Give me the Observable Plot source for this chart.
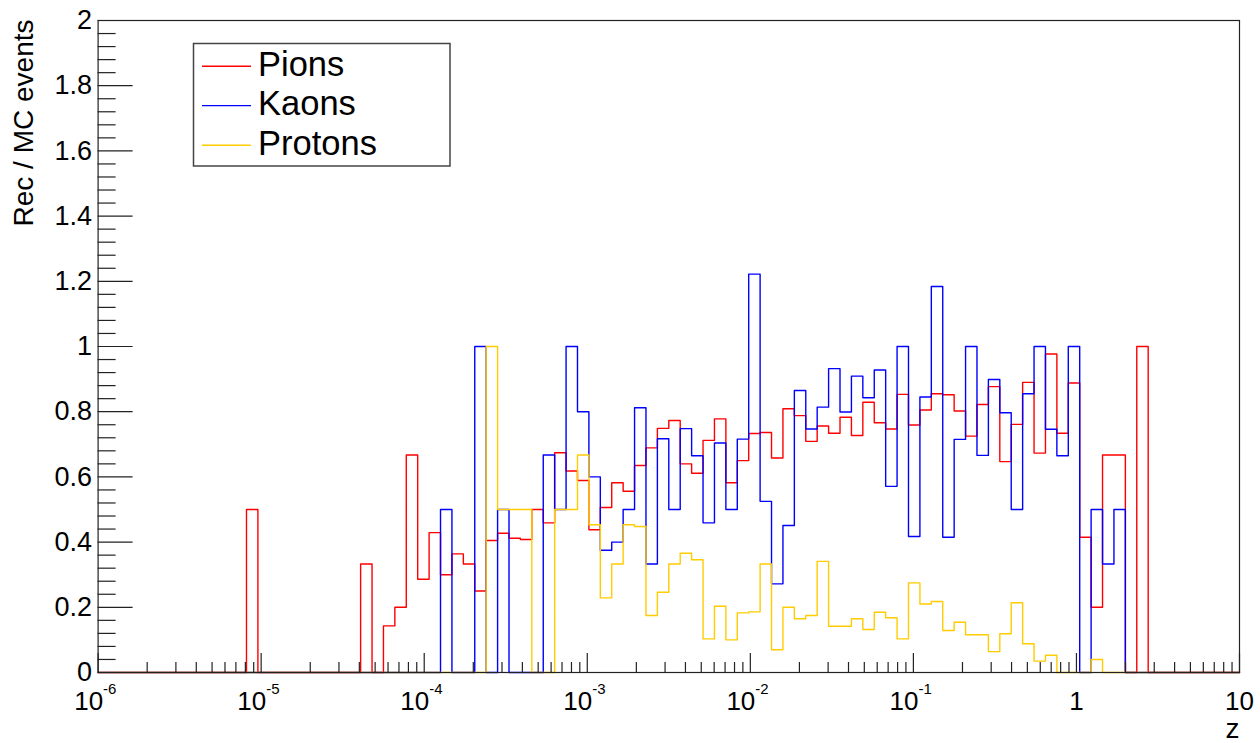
<!DOCTYPE html>
<html>
<head>
<meta charset="utf-8">
<script src="https://cdn.jsdelivr.net/npm/d3@7"></script>
<script src="https://cdn.jsdelivr.net/npm/@observablehq/plot@0.6"></script>
<style>
  html, body { margin: 0; padding: 0; background: #fff; }
  #chart { width: 1260px; height: 743px; }
</style>
</head>
<body>
<div id="chart"></div>
<script>
// Histogram definition: 100 log-uniform bins from 1e-6 to 10
const nBins = 100;
const zMin = 1e-6;
const zMax = 10;

// Bin contents (Rec / MC) per bin index 0..99
const pions = [
  0,0,0,0,0,0,0,0,0,0,
  0,0,0,0.5,0,0,0,0,0,0,
  0,0,0,0.333,0,0.143,0.2,0.667,0.286,0.429,
  0.3,0.364,0.333,0.25,0.405,0.427,0.412,0.408,0.5,0.459,
  0.674,0.618,0.589,0.438,0.506,0.582,0.556,0.635,0.689,0.749,
  0.773,0.64,0.611,0.712,0.778,0.582,0.65,0.733,0.736,0.658,
  0.809,0.788,0.709,0.756,0.734,0.783,0.727,0.829,0.766,0.747,
  0.853,0.759,0.805,0.855,0.852,0.802,0.725,0.822,0.877,0.647,
  0.761,0.89,0.673,0.977,0.734,0.888,0.415,0.2,0.667,0.667,
  0,1.0,0,0,0,0,0,0,0,0
];
const kaons = [
  0,0,0,0,0,0,0,0,0,0,
  0,0,0,0,0,0,0,0,0,0,
  0,0,0,0,0,0,0,0,0,0,
  0.5,0,0,1.0,0,0.5,0,0,0,0.667,
  0.5,1.0,0.8,0.6,0.375,0.4,0.5,0.812,0.333,0.717,
  0.5,0.748,0.665,0.459,0.704,0.5,0.716,1.222,0.525,0.272,
  0.451,0.865,0.747,0.814,0.932,0.799,0.909,0.843,0.928,0.571,
  1.0,0.417,0.845,1.184,0.415,0.715,1.0,0.666,0.899,0.797,
  0.5,0.855,1.0,0.746,0.665,1.0,0,0.5,0.333,0.5,
  0,0,0,0,0,0,0,0,0,0
];
const protons = [
  0,0,0,0,0,0,0,0,0,0,
  0,0,0,0,0,0,0,0,0,0,
  0,0,0,0,0,0,0,0,0,0,
  0,0,0,0,1.0,0.5,0.5,0.5,0,0,
  0.5,0.5,0.667,0.453,0.229,0.333,0.453,0.448,0.175,0.246,
  0.333,0.366,0.346,0.103,0.203,0.1,0.183,0.186,0.333,0.07,
  0.2,0.165,0.175,0.341,0.142,0.142,0.165,0.132,0.185,0.168,
  0.103,0.275,0.21,0.218,0.129,0.154,0.116,0.116,0.064,0.119,
  0.214,0.088,0.035,0.053,0,0,0,0.04,0,0,
  0,0,0,0,0,0,0,0,0,0
];

const seriesNames = ["Pions", "Kaons", "Protons"];
const seriesColors = ["#ff0000", "#0000ff", "#ffcc00"];

// Axis ticks and labels
const xTickValues = [1e-6, 1e-5, 1e-4, 1e-3, 1e-2, 1e-1, 1, 10];
const xTickBase = ["10", "10", "10", "10", "10", "10", "1", "10"];
const xTickExp = ["-6", "-5", "-4", "-3", "-2", "-1", "", ""];
const xMinorMultipliers = [2, 3, 4, 5, 6, 7, 8, 9];
const yTickValues = [0, 0.2, 0.4, 0.6, 0.8, 1, 1.2, 1.4, 1.6, 1.8, 2];
const yTickLabels = ["0", "0.2", "0.4", "0.6", "0.8", "1", "1.2", "1.4", "1.6", "1.8", "2"];
const yMinorStep = 0.04;
const xTitle = "z";
const yTitle = "Rec / MC events";

// ---- derived tables ----
const lg0 = Math.log10(zMin), lg1 = Math.log10(zMax);
const edges = d3.range(nBins + 1).map(i => Math.pow(10, lg0 + (lg1 - lg0) * i / nBins));
function histRows(vals, name) {
  const rows = vals.map((v, i) => ({z: edges[i], v, name}));
  rows.push({z: edges[nBins], v: 0, name});
  return rows;
}
const allSeries = [pions, kaons, protons];

const xMinor = [];
for (let k = 0; k < xTickValues.length - 1; k++)
  for (const m of xMinorMultipliers) xMinor.push(xTickValues[k] * m);
const yMinor = d3.range(0, 2.0001, yMinorStep).filter(v => Math.abs(v / 0.2 - Math.round(v / 0.2)) > 1e-6);

const W = 1260, H = 743;
const mL = 97.6, mR = 21, mT = 20, mB = 71;
const plotW = W - mL - mR, plotH = H - mT - mB;
const font = "'Liberation Sans', Arial, Helvetica, sans-serif";
const axisColor = "#222";

const expIdx = xTickValues.map((v, i) => i).filter(i => xTickExp[i] !== "");
const plainIdx = xTickValues.map((v, i) => i).filter(i => xTickExp[i] === "");

const marks = [
  // histograms
  ...allSeries.map((vals, s) => Plot.line(histRows(vals, seriesNames[s]), {
    x: "z", y: "v", curve: "step-after", stroke: seriesColors[s], strokeWidth: 1.4
  })),
  // frame
  Plot.frame({stroke: axisColor, strokeWidth: 1.2}),
  // x ticks (inside)
  Plot.ruleX(xTickValues, {x: d => d, insetTop: plotH - 19, stroke: axisColor, strokeWidth: 1.2}),
  Plot.ruleX(xMinor, {x: d => d, insetTop: plotH - 10, stroke: axisColor, strokeWidth: 1.2}),
  // y ticks (inside)
  Plot.ruleY(yTickValues, {y: d => d, insetRight: plotW - 35, stroke: axisColor, strokeWidth: 1.2}),
  Plot.ruleY(yMinor, {y: d => d, insetRight: plotW - 18, stroke: axisColor, strokeWidth: 1.2}),
  // y tick labels
  Plot.text(yTickValues, {
    y: d => d, frameAnchor: "left", text: (d, i) => yTickLabels[i],
    textAnchor: "end", lineAnchor: "middle", dx: -6, fontSize: 27, fill: "#000"
  }),
  // x tick labels with exponents
  Plot.text(expIdx, {
    x: i => xTickValues[i], frameAnchor: "bottom", text: i => xTickBase[i],
    textAnchor: "end", lineAnchor: "bottom", dx: 5, dy: 37, fontSize: 26, fill: "#000"
  }),
  Plot.text(expIdx, {
    x: i => xTickValues[i], frameAnchor: "bottom", text: i => xTickExp[i],
    textAnchor: "start", lineAnchor: "bottom", dx: 5, dy: 21, fontSize: 15, fill: "#000"
  }),
  Plot.text(plainIdx, {
    x: i => xTickValues[i], frameAnchor: "bottom", text: i => xTickBase[i],
    textAnchor: "middle", lineAnchor: "bottom", dy: 37, fontSize: 26, fill: "#000"
  }),
  // axis titles
  Plot.text([xTitle], {
    frameAnchor: "bottom-right", text: d => d, textAnchor: "end", lineAnchor: "bottom",
    dy: 65, fontSize: 28, fill: "#000"
  }),
  Plot.text([yTitle], {
    frameAnchor: "top-left", text: d => d, rotate: -90, textAnchor: "end", lineAnchor: "bottom",
    dx: -(mL - 32), dy: -1, fontSize: 28, fill: "#000"
  })
];

const svg = Plot.plot({
  width: W, height: H,
  marginLeft: mL, marginRight: mR, marginTop: mT, marginBottom: mB,
  x: {type: "log", domain: [zMin, zMax], axis: null},
  y: {domain: [0, 2], axis: null},
  style: {fontFamily: font, background: "#fff", color: "#000", overflow: "visible"},
  marks
});

// Legend box (ROOT TLegend style)
const lg = d3.select(svg).append("g").attr("font-family", font).attr("text-anchor", "start");
const box = {x: 193.5, y: 43.5, w: 256.5, h: 122.5};
lg.append("rect").attr("x", box.x).attr("y", box.y).attr("width", box.w).attr("height", box.h)
  .attr("fill", "#fff").attr("stroke", "#444").attr("stroke-width", 1.5);
const rowY = [66.3, 105.6, 145.3];
seriesNames.forEach((name, i) => {
  lg.append("line").attr("x1", 202).attr("x2", 251).attr("y1", rowY[i]).attr("y2", rowY[i])
    .attr("stroke", seriesColors[i]).attr("stroke-width", 1.4);
  lg.append("text").attr("x", 258).attr("y", rowY[i] + 9.5).attr("font-size", 34.5)
    .attr("text-anchor", "start").attr("fill", "#000").text(name);
});

document.getElementById("chart").appendChild(svg);
</script>
</body>
</html>
